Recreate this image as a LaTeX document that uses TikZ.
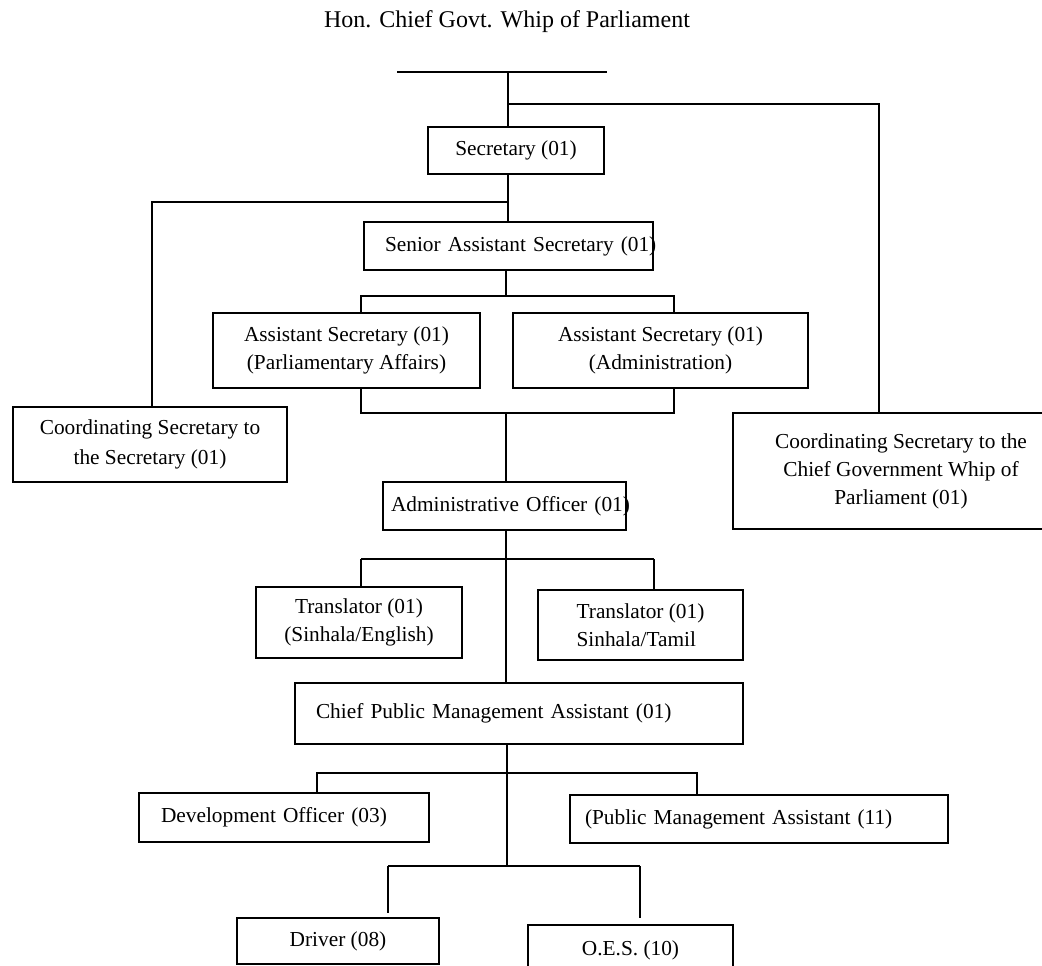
\documentclass[tikz,border=0pt]{standalone}
\usepackage{fontspec}
\setmainfont{Liberation Serif}

\begin{document}
\begin{tikzpicture}[x=0.75pt,y=-0.75pt,font=\fontsize{16}{20.5}\selectfont]
  \tikzstyle{post}=[rectangle,draw,line width=1.1pt,inner sep=0pt,align=center]
  \tikzstyle{lpost}=[post,align=left]
  \tikzstyle{link}=[line width=1.1pt]
  \tikzstyle{bold link}=[line width=1.6pt]

  \useasboundingbox (0,0) rectangle (1042,966);
  \clip (0,0) rectangle (1042,966);

    \node (ttl) [anchor=base,font=\fontsize{18}{22}\selectfont] at (507,28) {Hon. Chief Govt. Whip of Parliament};

    \node [post] (sec) at (516,150.5) [minimum width=132pt,minimum height=35.25pt] {Secretary (01)};
    \node [lpost] (snr) at (508.5,246) [text width=185.25pt,inner xsep=15.75pt,minimum height=36pt] {\mbox{Senior Assistant Secretary (01)}};
    \node [post] (asp) at (346.5,350.5) [minimum width=200.25pt,minimum height=56.25pt] {Assistant Secretary (01)\\(Parliamentary Affairs)};
    \node [post] (asa) at (660.5,350.5) [minimum width=221.25pt,minimum height=56.25pt] {Assistant Secretary (01)\\(Administration)};
    \node [post] (cs) at (150,444.5) [minimum width=205.5pt,minimum height=56.25pt,font=\fontsize{16}{23}\selectfont] {Coordinating Secretary to\\the Secretary (01)};
    \node [post] (cgw) at (901,471) [minimum width=252pt,minimum height=87pt,font=\fontsize{16}{21}\selectfont] {Coordinating Secretary to the\\Chief Government Whip of\\Parliament (01)}; %cut at the edge
    \node [lpost] (ao) at (504.5,506) [text width=170.25pt,inner xsep=6pt,minimum height=36pt] {\mbox{Administrative Officer (01)}};
    \node [post] (tr1) at (359,622.5) [minimum width=154.5pt,minimum height=53.25pt,font=\fontsize{16}{21}\selectfont] {Translator (01)\\(Sinhala/English)};
    \node [lpost] (tr2) at (640.5,625) [minimum width=153.75pt,minimum height=52.5pt,font=\fontsize{16}{21}\selectfont] {Translator (01)\\Sinhala/Tamil};
    \node [lpost] (cpma) at (519,713.5) [text width=304.5pt,inner xsep=15.75pt,minimum height=45.75pt] {Chief Public Management Assistant (01)};
    \node [lpost] (dev) at (284,817.5) [text width=184.5pt,inner xsep=16.5pt,minimum height=36.75pt] {Development Officer (03)};
    \node [lpost] (pma) at (759,819) [text width=261pt,inner xsep=11.25pt,minimum height=36pt] {(Public Management Assistant (11)};
    \node [post] (drv) at (338,941) [minimum width=151.5pt,minimum height=34.5pt] {Driver (08)};
    \node [post] (oes) at (630.5,950) [minimum width=153.75pt,minimum height=37.5pt] {O.E.S. (10)};

    % junctions
    \coordinate (barL) at (397,72);
    \coordinate (barR) at (607,72);
    \coordinate (spine) at (508,72);
    \coordinate (jr) at (508,104);
    \coordinate (jrr) at (879,104);
    \coordinate (jl) at (508,202);
    \coordinate (jll) at (152,202);
    \coordinate (ja) at (506,296);
    \coordinate (ja1) at (361,296);
    \coordinate (ja2) at (674,296);
    \coordinate (jb) at (506,413);
    \coordinate (jb1) at (361,413);
    \coordinate (jb2) at (674,413);
    \coordinate (jc) at (506,559);
    \coordinate (jc1) at (361,559);
    \coordinate (jc2) at (654,559);
    \coordinate (jd) at (507,773);
    \coordinate (jd1) at (317,773);
    \coordinate (jd2) at (697,773);
    \coordinate (je) at (507,866);
    \coordinate (je1) at (388,866);
    \coordinate (je2) at (640,866);

    \draw [line width=2.2pt] (barL) -- (barR);
    \draw [link] (spine) -- (spine |- sec.north);
    \draw [link] (jr) -- (jrr) -- (jrr |- cgw.north);
    \draw [link] (spine |- sec.south) -- (spine |- snr.north);
    \draw [link] (jl) -- (jll) -- (jll |- cs.north);

    \draw [link] (ja |- snr.south) -- (ja);
    \draw [link] (ja1 |- asp.north) -- (ja1) -- (ja2) -- (ja2 |- asa.north);
    \draw [link] (jb1 |- asp.south) -- (jb1) -- (jb2) -- (jb2 |- asa.south);
    \draw [link] (jb) -- (jb |- ao.north);

    \draw [link] (jc |- ao.south) -- (jc |- cpma.north);
    \draw [bold link] (jc1) -- (jc2);
    \draw [link] (jc1 |- tr1.north) -- (jc1);
    \draw [link] (jc2) -- (jc2 |- tr2.north);

    \draw [link] (jd |- cpma.south) -- (je);
    \draw [link] (jd1 |- dev.north) -- (jd1) -- (jd2) -- (jd2 |- pma.north);
    \draw [bold link] (je1) -- (je2);
    \draw [link] (je1) -- ([yshift=3pt]drv.north -| je1);
    \draw [link] (je2) -- ([yshift=5pt]oes.north -| je2);
\end{tikzpicture}
\end{document}
